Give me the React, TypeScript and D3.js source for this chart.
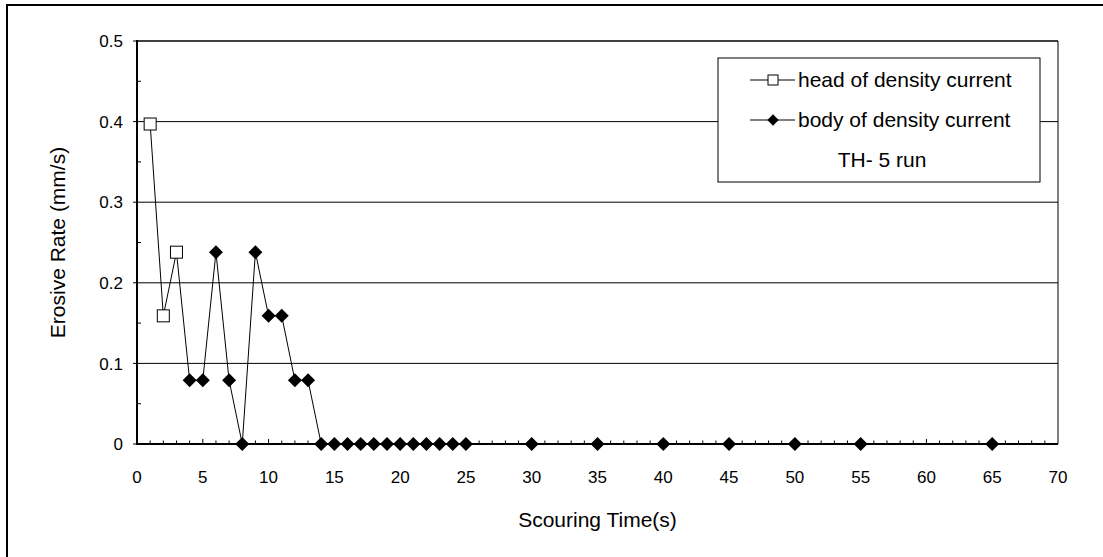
import React, { useRef, useEffect } from "react";
import * as d3 from "d3";

// head of density current (open squares)
const headTime = [1, 2, 3];
const headRate = [0.397, 0.159, 0.238];

// body of density current (filled diamonds)
const bodyTime = [4, 5, 6, 7, 8, 9, 10, 11, 12, 13, 14, 15, 16, 17, 18, 19, 20, 21, 22, 23, 24, 25, 30, 35, 40, 45, 50, 55, 65];
const bodyRate = [0.079, 0.079, 0.238, 0.079, 0, 0.238, 0.159, 0.159, 0.079, 0.079, 0, 0, 0, 0, 0, 0, 0, 0, 0, 0, 0, 0, 0, 0, 0, 0, 0, 0, 0];

const xTicks = [0, 5, 10, 15, 20, 25, 30, 35, 40, 45, 50, 55, 60, 65, 70];
const yTicks = [0, 0.1, 0.2, 0.3, 0.4, 0.5];
const legendLabels = ["head of density current", "body of density current", "TH- 5 run"];

const W = 1103, H = 557;
const FONT = "'Liberation Sans', Arial, sans-serif";

const App = () => {
  const svgRef = useRef(null);

  useEffect(() => {
    const svg = d3.select(svgRef.current);
    svg.selectAll("*").remove();

    const x = d3.scaleLinear().domain([0, 70]).range([137, 1058]);
    const y = d3.scaleLinear().domain([0, 0.5]).range([444, 41]);

    // outer frame (only left and top show inside the picture)
    svg.append("rect")
      .attr("x", 7).attr("y", 5)
      .attr("width", W + 20).attr("height", H + 20)
      .attr("fill", "white").attr("stroke", "black").attr("stroke-width", 2);

    // horizontal gridlines
    svg.append("g")
      .selectAll("line")
      .data(yTicks.filter((d) => d > 0))
      .join("line")
      .attr("x1", x(0)).attr("x2", x(70))
      .attr("y1", (d) => y(d)).attr("y2", (d) => y(d))
      .attr("stroke", "black").attr("stroke-width", (d) => (d === 0.5 ? 1.5 : 1));

    // right border of the plot area
    svg.append("line")
      .attr("x1", x(70)).attr("x2", x(70))
      .attr("y1", y(0.5)).attr("y2", y(0))
      .attr("stroke", "black").attr("stroke-width", 1);

    // y axis: major ticks outside, minor ticks inside
    const yAxis = svg.append("g");
    yAxis.append("line")
      .attr("x1", x(0)).attr("x2", x(0))
      .attr("y1", y(0.5) - 1).attr("y2", y(0) + 1)
      .attr("stroke", "black").attr("stroke-width", 2);
    yAxis.selectAll(".major")
      .data(yTicks)
      .join("line")
      .attr("class", "major")
      .attr("x1", x(0) - 4).attr("x2", x(0))
      .attr("y1", (d) => y(d)).attr("y2", (d) => y(d))
      .attr("stroke", "black");
    yAxis.selectAll(".minor")
      .data(d3.range(0.05, 0.5, 0.1))
      .join("line")
      .attr("class", "minor")
      .attr("x1", x(0)).attr("x2", x(0) + 4)
      .attr("y1", (d) => y(d)).attr("y2", (d) => y(d))
      .attr("stroke", "black");
    yAxis.selectAll("text")
      .data(yTicks)
      .join("text")
      .attr("x", 123)
      .attr("y", (d) => y(d))
      .attr("dy", "0.36em")
      .attr("text-anchor", "end")
      .style("font-family", FONT)
      .style("font-size", "17px")
      .text((d) => (d === 0 ? "0" : d3.format(".1f")(d)));

    // x axis: ticks pointing up into the plot
    const xAxis = svg.append("g");
    xAxis.append("line")
      .attr("x1", x(0) - 1).attr("x2", x(70))
      .attr("y1", y(0)).attr("y2", y(0))
      .attr("stroke", "black").attr("stroke-width", 2);
    xAxis.selectAll(".tick")
      .data(d3.range(1, 70))
      .join("line")
      .attr("class", "tick")
      .attr("x1", (d) => x(d)).attr("x2", (d) => x(d))
      .attr("y1", y(0)).attr("y2", (d) => y(0) - (d % 5 === 0 ? 5 : 3.5))
      .attr("stroke", "black");
    xAxis.selectAll("text")
      .data(xTicks)
      .join("text")
      .attr("x", (d) => x(d))
      .attr("y", 483)
      .attr("text-anchor", "middle")
      .style("font-family", FONT)
      .style("font-size", "17px")
      .text((d) => d);

    // axis titles
    svg.append("text")
      .attr("transform", `translate(65, ${(y(0) + y(0.5)) / 2}) rotate(-90)`)
      .attr("text-anchor", "middle")
      .style("font-family", FONT)
      .style("font-size", "21px")
      .text("Erosive Rate (mm/s)");
    svg.append("text")
      .attr("x", (x(0) + x(70)) / 2)
      .attr("y", 527)
      .attr("text-anchor", "middle")
      .style("font-family", FONT)
      .style("font-size", "21px")
      .text("Scouring Time(s)");

    const head = headTime.map((t, i) => ({ t, r: headRate[i] }));
    const body = bodyTime.map((t, i) => ({ t, r: bodyRate[i] }));

    const line = d3.line().x((d) => x(d.t)).y((d) => y(d.r));

    // body line starts from the last head point
    svg.append("path")
      .datum([head[head.length - 1], ...body])
      .attr("d", line)
      .attr("fill", "none").attr("stroke", "black").attr("stroke-width", 1);
    svg.append("path")
      .datum(head)
      .attr("d", line)
      .attr("fill", "none").attr("stroke", "black").attr("stroke-width", 1);

    const diamond = (size) => d3.symbol().type(d3.symbolSquare).size(size);

    svg.append("g")
      .selectAll("path")
      .data(body)
      .join("path")
      .attr("transform", (d) => `translate(${x(d.t)}, ${y(d.r)}) rotate(45)`)
      .attr("d", diamond(98))
      .attr("fill", "black");

    svg.append("g")
      .selectAll("rect")
      .data(head)
      .join("rect")
      .attr("x", (d) => x(d.t) - 6)
      .attr("y", (d) => y(d.r) - 6)
      .attr("width", 12).attr("height", 12)
      .attr("fill", "white").attr("stroke", "black").attr("stroke-width", 1);

    // legend
    const lg = svg.append("g");
    lg.append("rect")
      .attr("x", 718).attr("y", 58)
      .attr("width", 322).attr("height", 124)
      .attr("fill", "white").attr("stroke", "black").attr("stroke-width", 1);
    const rowY = [80, 120, 160];
    [0, 1].forEach((i) => {
      lg.append("line")
        .attr("x1", 750).attr("x2", 795)
        .attr("y1", rowY[i]).attr("y2", rowY[i])
        .attr("stroke", "black");
      if (i === 0) {
        lg.append("rect")
          .attr("x", 768).attr("y", rowY[i] - 5)
          .attr("width", 10).attr("height", 10)
          .attr("fill", "white").attr("stroke", "black");
      } else {
        lg.append("path")
          .attr("transform", `translate(773, ${rowY[i]}) rotate(45)`)
          .attr("d", diamond(64))
          .attr("fill", "black");
      }
      lg.append("text")
        .attr("x", 798).attr("y", rowY[i])
        .attr("dy", "0.35em")
        .style("font-family", FONT)
        .style("font-size", "21px")
        .text(legendLabels[i]);
    });
    lg.append("text")
      .attr("x", 882).attr("y", rowY[2])
      .attr("dy", "0.35em")
      .attr("text-anchor", "middle")
      .style("font-family", FONT)
      .style("font-size", "21px")
      .text(legendLabels[2]);
  }, []);

  return (
    <svg
      ref={svgRef}
      width={W}
      height={H}
      style={{ position: "absolute", left: 0, top: 0, background: "white" }}
    ></svg>
  );
};

export default App;
